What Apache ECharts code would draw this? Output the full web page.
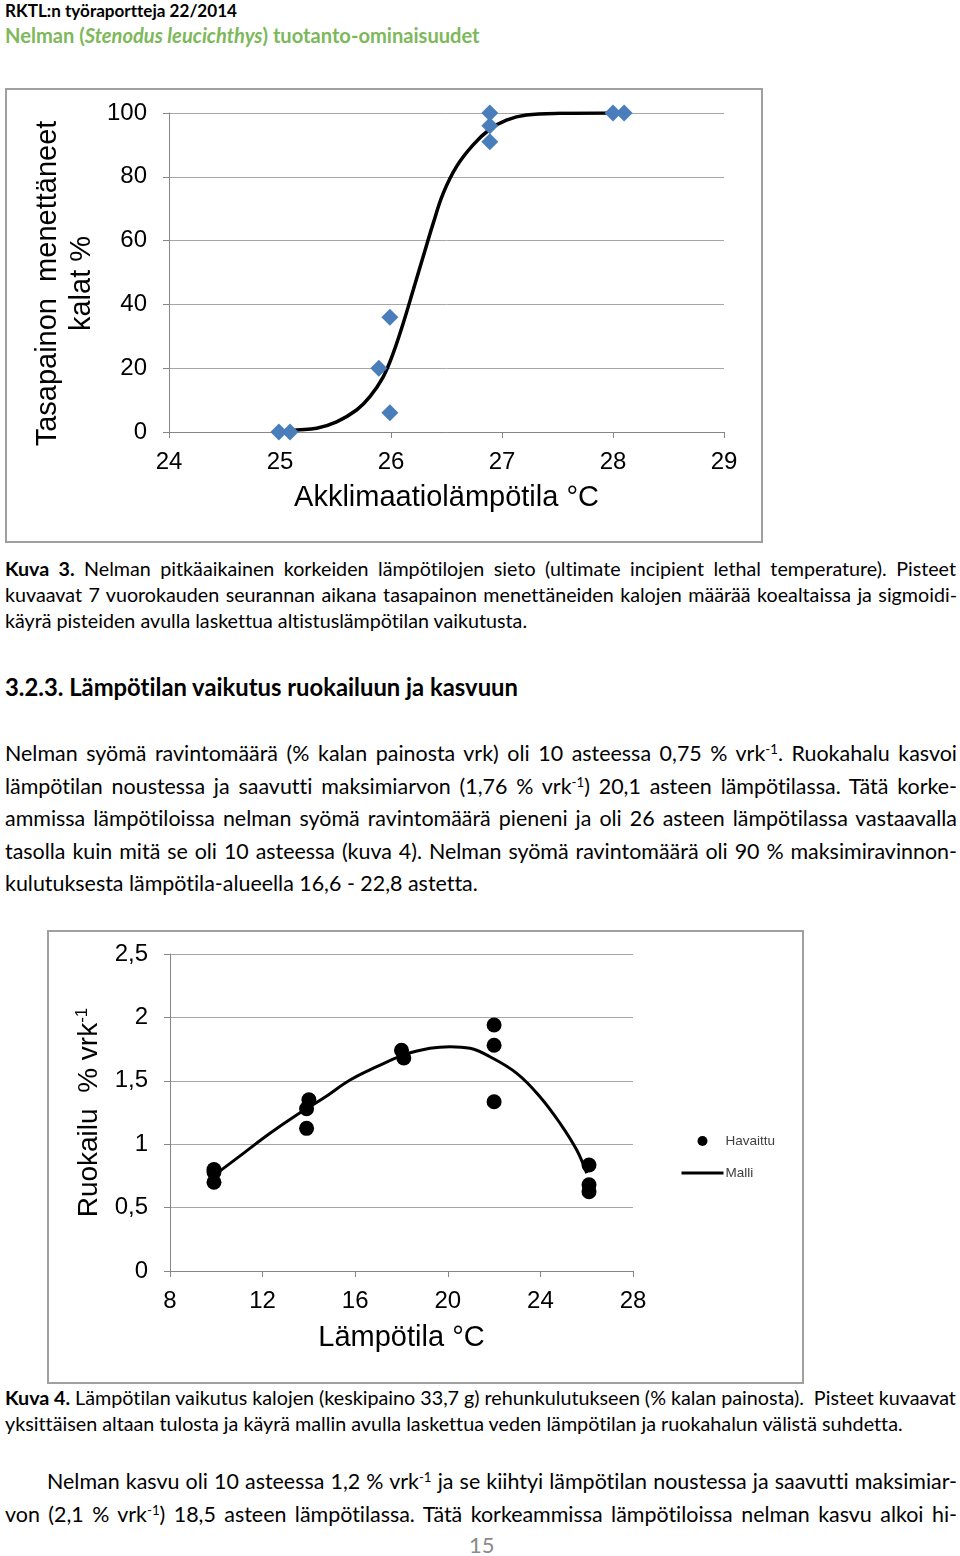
<!DOCTYPE html>
<html>
<head>
<meta charset="utf-8">
<script src="https://cdn.jsdelivr.net/npm/echarts@6/dist/echarts.min.js"></script>
<style>
  html,body{margin:0;padding:0;background:#fff;}
  body{width:960px;height:1556px;position:relative;overflow:hidden;font-family:Lato,"Open Sans",sans-serif;color:#000;font-variant-ligatures:none;}
  .ln{position:absolute;white-space:nowrap;line-height:1.25;}
  .cap{font-size:19px;}
  .body{font-size:21px;}
  sup{font-size:0.62em;line-height:0;vertical-align:0.55em;}
  .box{position:absolute;box-sizing:border-box;border:2px solid #a0a0a0;background:#fff;}
  .chart{position:absolute;left:0;top:0;}
</style>
</head>
<body>
<!-- header -->
<div class="ln" style="font-size:17px;font-weight:bold;" data-g="h1" data-ref="1" data-x0="5" data-x1="237" data-y="10">RKTL:n työraportteja 22/2014</div>
<div class="ln" style="font-size:20px;font-weight:bold;color:#7db85a;" data-g="h2" data-ref="1" data-x0="5" data-x1="480" data-y="35">Nelman (<i>Stenodus leucichthys</i>) tuotanto-ominaisuudet</div>

<div class="box" style="left:5px;top:88px;width:758px;height:455px;"><div id="c1" class="chart" style="width:754px;height:451px;"></div></div>

<div class="ln cap" data-g="cap1" data-x0="5" data-x1="956" data-y="568"><b>Kuva 3.</b> Nelman pitkäaikainen korkeiden lämpötilojen sieto (ultimate incipient lethal temperature). Pisteet</div>
<div class="ln cap" data-g="cap1" data-x0="5" data-x1="957" data-y="594">kuvaavat 7 vuorokauden seurannan aikana tasapainon menettäneiden kalojen määrää koealtaissa ja sigmoidi-</div>
<div class="ln cap" data-g="cap1" data-ref="1" data-x0="5" data-x1="527" data-y="620">käyrä pisteiden avulla laskettua altistuslämpötilan vaikutusta.</div>

<div class="ln" style="font-size:23px;font-weight:bold;" data-g="head" data-ref="1" data-x0="5" data-x1="518" data-y="686">3.2.3. Lämpötilan vaikutus ruokailuun ja kasvuun</div>

<div class="ln body" data-g="body" data-x0="5" data-x1="957" data-y="752">Nelman syömä ravintomäärä (% kalan painosta vrk) oli 10 asteessa 0,75 % vrk<sup>-1</sup>. Ruokahalu kasvoi</div>
<div class="ln body" data-g="body" data-x0="5" data-x1="957" data-y="785">lämpötilan noustessa ja saavutti maksimiarvon (1,76 % vrk<sup>-1</sup>) 20,1 asteen lämpötilassa. Tätä korke-</div>
<div class="ln body" data-g="body" data-x0="5" data-x1="957" data-y="817">ammissa lämpötiloissa nelman syömä ravintomäärä pieneni ja oli 26 asteen lämpötilassa vastaavalla</div>
<div class="ln body" data-g="body" data-x0="5" data-x1="957" data-y="850">tasolla kuin mitä se oli 10 asteessa (kuva 4).  Nelman syömä ravintomäärä oli 90 % maksimiravinnon-</div>
<div class="ln body" data-g="body" data-ref="1" data-x0="5" data-x1="478" data-y="882">kulutuksesta lämpötila-alueella 16,6 - 22,8 astetta.</div>

<div class="box" style="left:47px;top:930px;width:757px;height:454px;"><div id="c2" class="chart" style="width:753px;height:450px;"></div></div>

<div class="ln cap" data-g="cap2" data-x0="5" data-x1="956" data-y="1397"><b>Kuva 4.</b> Lämpötilan vaikutus kalojen (keskipaino 33,7 g) rehunkulutukseen (% kalan painosta).&nbsp; Pisteet kuvaavat</div>
<div class="ln cap" data-g="cap2" data-ref="1" data-x0="5" data-x1="903" data-y="1423">yksittäisen altaan tulosta ja käyrä mallin avulla laskettua veden lämpötilan ja ruokahalun välistä suhdetta.</div>

<div class="ln body" data-g="body" data-x0="47" data-x1="957" data-y="1480">Nelman kasvu oli 10 asteessa 1,2 % vrk<sup>-1</sup> ja se kiihtyi lämpötilan noustessa ja saavutti maksimiar-</div>
<div class="ln body" data-g="body" data-x0="5" data-x1="957" data-y="1513">von (2,1 % vrk<sup>-1</sup>) 18,5 asteen lämpötilassa. Tätä korkeammissa lämpötiloissa nelman kasvu alkoi hi-</div>
<div class="ln" style="font-size:22px;color:#8a8a8a;" data-g="pg" data-x0="469" data-x1="493" data-y="1544">15</div>

<script>
// ---- Chart 1 data: balance loss (%) vs acclimation temperature ----
const lossTemp = [24.99, 25.09, 25.89, 25.99, 25.99, 26.89, 26.89, 26.89, 28.0, 28.1];
const lossPct  = [0, 0, 20, 36, 6, 100, 96, 91, 100, 100];
const sigmoidTemp = [25.09, 25.15, 25.33, 25.51, 25.69, 25.81, 25.93, 26.02, 26.11, 26.2, 26.29, 26.38, 26.47, 26.59, 26.74, 26.89, 27.04, 27.22, 27.52, 28.0, 28.1];
const sigmoidPct  = [0.3, 0.6, 1.2, 3.2, 6.9, 11.1, 17.3, 24.7, 34.1, 44.5, 55.0, 65.4, 74.8, 83.2, 90.0, 94.9, 97.8, 99.4, 99.9, 100, 100];

// ---- Chart 2 data: feeding (% vrk-1) vs temperature ----
const feedTemp = [9.9, 9.9, 9.9, 14.0, 13.9, 13.9, 18.0, 18.1, 22.0, 22.0, 22.0, 26.1, 26.1, 26.1];
const feedObs  = [0.80, 0.78, 0.70, 1.35, 1.28, 1.125, 1.74, 1.68, 1.94, 1.78, 1.335, 0.836, 0.68, 0.625];
const modelTemp = [10.02, 11.17, 12.32, 13.47, 14.62, 15.78, 16.93, 18.08, 19.23, 20.1, 20.96, 21.82, 22.98, 23.98, 24.85, 25.57, 26.0];
const modelFeed = [0.77, 0.928, 1.086, 1.23, 1.362, 1.506, 1.611, 1.703, 1.756, 1.769, 1.756, 1.69, 1.559, 1.375, 1.165, 0.954, 0.77];

const legendNames = ['Havaittu', 'Malli'];

function zip(a, b) { return a.map((v, i) => [v, b[i]]); }

const AX = '#868686';
const GRID = '#a6a6a6';
const FONT = 'Liberation Sans, Arial, sans-serif';

const c1 = echarts.init(document.getElementById('c1'), null, { renderer: 'canvas' });
c1.setOption({
  animation: false,
  grid: { left: 162, top: 23, width: 555, height: 319 },
  xAxis: {
    type: 'value', min: 24, max: 29, interval: 1,
    axisLine: { show: true, lineStyle: { color: AX, width: 1 } },
    axisTick: { show: true, length: 6, lineStyle: { color: AX } },
    splitLine: { show: false },
    axisLabel: { fontSize: 24, color: '#000', fontFamily: FONT, margin: 18 },
    name: 'Akklimaatiolämpötila °C', nameLocation: 'middle', nameGap: 51, nameMoveOverlap: false,
    nameTextStyle: { fontSize: 29, color: '#000', fontFamily: FONT }
  },
  yAxis: {
    type: 'value', min: 0, max: 100, interval: 20,
    axisLine: { show: true, lineStyle: { color: AX, width: 1 } },
    axisTick: { show: true, length: 6, lineStyle: { color: AX } },
    splitLine: { show: true, lineStyle: { color: GRID, width: 1 } },
    axisLabel: { fontSize: 24, color: '#000', fontFamily: FONT, margin: 22 },
    name: 'Tasapainon  menettäneet\nkalat %', nameLocation: 'middle', nameGap: 70, nameRotate: 90, nameMoveOverlap: false,
    nameTextStyle: { fontSize: 29, color: '#000', fontFamily: FONT, lineHeight: 34, align: 'center', padding: [0, 22, 0, 0] }
  },
  series: [
    {
      type: 'line', data: zip(sigmoidTemp, sigmoidPct), smooth: 0.4, showSymbol: false, symbol: 'none',
      lineStyle: { color: '#000', width: 3.5 }, z: 2
    },
    {
      type: 'scatter', data: zip(lossTemp, lossPct), symbol: 'diamond', symbolSize: [17, 17],
      itemStyle: { color: '#4a7ebb', opacity: 1 }, z: 3
    }
  ]
});

const c2 = echarts.init(document.getElementById('c2'), null, { renderer: 'canvas' });
c2.setOption({
  animation: false,
  grid: { left: 121, top: 22, width: 463, height: 317 },
  legend: {
    orient: 'vertical', left: 631, top: 202, padding: 0, itemWidth: 42, itemHeight: 10, itemGap: 18,
    textStyle: { fontSize: 13.5, color: '#404040', fontFamily: FONT, padding: [0, 0, 0, -3] },
    data: [
      { name: legendNames[0], icon: 'circle', itemStyle: { opacity: 1 } },
      { name: legendNames[1], itemStyle: { opacity: 0 }, lineStyle: { width: 3, color: '#000' } }
    ]
  },
  xAxis: {
    type: 'value', min: 8, max: 28, interval: 4,
    axisLine: { show: true, lineStyle: { color: AX, width: 1 } },
    axisTick: { show: true, length: 6, lineStyle: { color: AX } },
    splitLine: { show: false },
    axisLabel: { fontSize: 24, color: '#000', fontFamily: FONT, margin: 18 },
    name: 'Lämpötila °C', nameLocation: 'middle', nameGap: 52, nameMoveOverlap: false,
    nameTextStyle: { fontSize: 29, color: '#000', fontFamily: FONT }
  },
  yAxis: {
    type: 'value', min: 0, max: 2.5, interval: 0.5,
    axisLine: { show: true, lineStyle: { color: AX, width: 1 } },
    axisTick: { show: true, length: 6, lineStyle: { color: AX } },
    splitLine: { show: true, lineStyle: { color: GRID, width: 1 } },
    axisLabel: {
      fontSize: 24, color: '#000', fontFamily: FONT, margin: 22,
      formatter: v => String(v).replace('.', ',')
    },
    name: '{n|Ruokailu  % vrk}{s|-1}', nameLocation: 'middle', nameGap: 66, nameRotate: 90, nameMoveOverlap: false,
    nameTextStyle: {
      fontSize: 28, color: '#000', fontFamily: FONT,
      rich: {
        n: { fontSize: 28, fontFamily: FONT, color: '#000', lineHeight: 30 },
        s: { fontSize: 17, fontFamily: FONT, color: '#000', lineHeight: 30, verticalAlign: 'top' }
      }
    }
  },
  series: [
    {
      name: legendNames[1], type: 'line', data: zip(modelTemp, modelFeed), smooth: 0.4,
      showSymbol: false, symbol: 'none', lineStyle: { color: '#000', width: 3 }, itemStyle: { color: '#000' }, z: 2
    },
    {
      name: legendNames[0], type: 'scatter', data: zip(feedTemp, feedObs), symbol: 'circle', symbolSize: 15,
      itemStyle: { color: '#000', opacity: 1 }, z: 3
    }
  ]
});

function fitLines() {
  const lines = Array.from(document.querySelectorAll('.ln'));
  const groups = {};
  lines.forEach(el => { el.style.wordSpacing = '0px'; (groups[el.dataset.g] = groups[el.dataset.g] || []).push(el); });
  Object.values(groups).forEach(list => {
    const ref = list.find(e => e.dataset.ref);
    if (!ref) return;
    ref.style.fontSize = '';
    const s0 = parseFloat(getComputedStyle(ref).fontSize);
    const w = ref.getBoundingClientRect().width;
    const s = s0 * (+ref.dataset.x1 - +ref.dataset.x0) / w;
    list.forEach(e => e.style.fontSize = s.toFixed(2) + 'px');
  });
  lines.forEach(el => {
    const x0 = +el.dataset.x0, x1 = +el.dataset.x1, yc = +el.dataset.y;
    el.style.left = x0 + 'px';
    el.style.top = '0px';
    el.style.wordSpacing = '0px';
    const w = el.getBoundingClientRect().width;
    const txt = el.textContent.trim();
    const n = (txt.match(/\s+/g) || []).length;
    if (n > 0 && !el.dataset.ref) el.style.wordSpacing = ((x1 - x0 - w) / n) + 'px';
    const h = el.getBoundingClientRect().height;
    el.style.top = (yc - h / 2 + 1) + 'px';
  });
}
fitLines();
if (document.fonts && document.fonts.ready) document.fonts.ready.then(fitLines);
</script>
</body>
</html>
